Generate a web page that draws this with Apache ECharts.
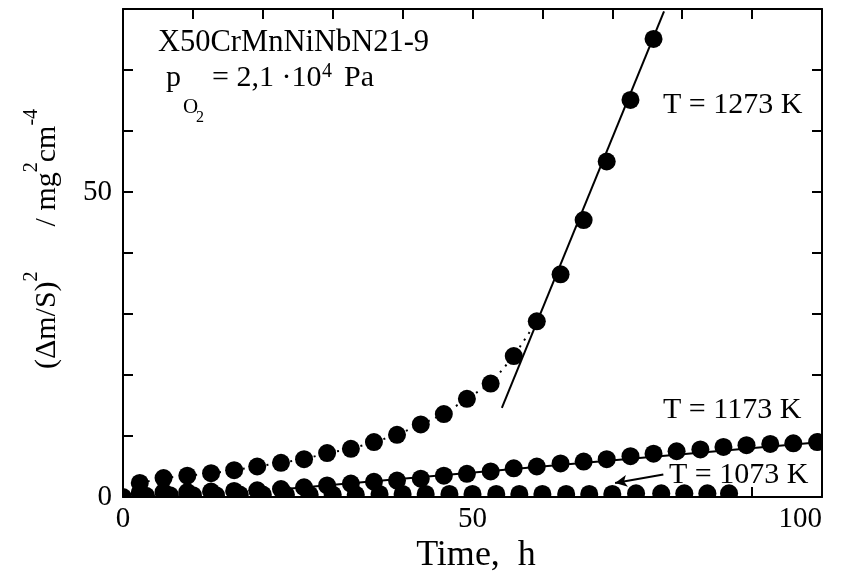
<!DOCTYPE html>
<html>
<head>
<meta charset="utf-8">
<script src="https://cdn.jsdelivr.net/npm/echarts@6/dist/echarts.min.js"></script>
<style>
  html, body { margin: 0; padding: 0; background: #fff; }
  #chart { width: 859px; height: 579px; }
</style>
</head>
<body>
<div id="chart"></div>
<script>
// time (h) and (dm/S)^2 (mg^2 cm^-4)
const t1273 = [2.4, 5.8, 9.2, 12.6, 15.9, 19.2, 22.6, 25.9, 29.2, 32.6, 35.9, 39.2, 42.6, 45.9, 49.2, 52.6, 55.9, 59.2, 62.6, 65.9, 69.2, 72.6, 75.9];
const m1273 = [2.3, 3.1, 3.5, 3.9, 4.4, 5.0, 5.6, 6.2, 7.2, 7.9, 9.0, 10.2, 11.9, 13.6, 16.1, 18.6, 23.1, 28.8, 36.5, 45.4, 55.0, 65.1, 75.1];

const t1173 = [2.4, 5.8, 9.2, 12.6, 15.9, 19.2, 22.6, 25.9, 29.2, 32.6, 35.9, 39.2, 42.6, 45.9, 49.2, 52.6, 55.9, 59.2, 62.6, 65.9, 69.2, 72.6, 75.9, 79.2, 82.6, 85.9, 89.2, 92.6, 95.9, 99.3];
const m1173 = [0.7, 0.8, 0.8, 0.9, 1.0, 1.1, 1.3, 1.6, 1.9, 2.2, 2.5, 2.7, 3.0, 3.5, 3.8, 4.2, 4.7, 5.0, 5.5, 5.8, 6.2, 6.7, 7.1, 7.5, 7.8, 8.2, 8.5, 8.7, 8.8, 9.0];

const t1073 = [0, 3.3, 6.7, 10.0, 13.3, 16.7, 20.0, 23.3, 26.7, 30.0, 33.3, 36.7, 40.0, 43.3, 46.7, 50.0, 53.4, 56.7, 60.0, 63.4, 66.7, 70.0, 73.4, 77.0, 80.3, 83.6, 86.7];
const m1073 = [0.0, 0.2, 0.3, 0.3, 0.3, 0.4, 0.4, 0.4, 0.4, 0.4, 0.4, 0.5, 0.5, 0.5, 0.5, 0.5, 0.5, 0.5, 0.5, 0.5, 0.5, 0.5, 0.6, 0.6, 0.6, 0.6, 0.6];

// straight-line fits drawn in the figure
const fit1273 = [[54.2, 14.6], [77.4, 79.6]];
const fit1173 = [[24.0, 1.4], [100, 9.0]];
const dottedCount = 18; // 1273 K points joined by the dotted curve

const serif = 'Liberation Serif';

function pairs(xs, ys) {
  return xs.map((x, i) => [x, ys[i]]);
}

function dotSeries(data) {
  return {
    type: 'custom',
    clip: true,
    data: data,
    z: 4,
    renderItem: function (params, api) {
      const p = api.coord([api.value(0), api.value(1)]);
      return { type: 'circle', shape: { cx: p[0], cy: p[1], r: 9 }, style: { fill: '#000' } };
    }
  };
}

function axisBase(show) {
  return {
    type: 'value',
    interval: 10,
    axisLine: { show: true, onZero: false, lineStyle: { color: '#000', width: 2 } },
    axisTick: { show: true, inside: true, length: 10, lineStyle: { color: '#000', width: 2 } },
    splitLine: { show: false },
    axisLabel: {
      show: show,
      color: '#000',
      fontFamily: serif,
      fontSize: 29,
      formatter: v => (v % 50 === 0 ? String(v) : '')
    }
  };
}

const txt = (x, y, text, size, extra) => ({
  type: 'text', x: x, y: y, z: 10,
  style: Object.assign({ text: text, fill: '#000', font: size + 'px "' + serif + '"', align: 'left', verticalAlign: 'middle' }, extra || {})
});

const chart = echarts.init(document.getElementById('chart'));
chart.setOption({
  animation: false,
  backgroundColor: '#fff',
  grid: { left: 123, right: 37, top: 9, bottom: 82 },
  xAxis: [
    Object.assign(axisBase(true), { min: 0, max: 100, position: 'bottom',
      axisLabel: Object.assign(axisBase(true).axisLabel, { margin: 8, alignMaxLabel: 'right' }) }),
    Object.assign(axisBase(false), { min: 0, max: 100, position: 'top' })
  ],
  yAxis: [
    Object.assign(axisBase(true), { min: 0, max: 80, position: 'left',
      axisLabel: Object.assign(axisBase(true).axisLabel, { margin: 11 }) }),
    Object.assign(axisBase(false), { min: 0, max: 80, position: 'right' })
  ],
  series: [
    {
      type: 'line', data: pairs(t1273, m1273).slice(0, dottedCount), symbol: 'none',
      lineStyle: { color: '#000', width: 2, type: [2, 6] }, z: 2
    },
    {
      type: 'line', data: fit1273, symbol: 'none',
      lineStyle: { color: '#000', width: 2 }, z: 3
    },
    {
      type: 'line', data: fit1173, symbol: 'none',
      lineStyle: { color: '#000', width: 2 }, z: 3,
      markLine: {
        silent: true, symbol: ['none', 'arrow'], symbolSize: [9, 12],
        label: { show: false },
        lineStyle: { color: '#000', width: 2, type: 'solid' },
        data: [[{ coord: [77.3, 3.7] }, { coord: [70.4, 2.3] }]]
      }
    },
    dotSeries(pairs(t1273, m1273)),
    dotSeries(pairs(t1173, m1173)),
    dotSeries(pairs(t1073, m1073))
  ],
  graphic: [
    txt(158, 43, 'X50CrMnNiNbN21-9', 30.5),
    txt(166, 78, 'p', 30),
    txt(183, 107, 'O', 21),
    txt(196, 118, '2', 16),
    txt(212, 78, '= 2,1 ·10', 30),
    txt(322, 72, '4', 20),
    txt(344, 78, 'Pa', 30),
    txt(663, 105, 'T = 1273 K', 30),
    txt(663, 410, 'T = 1173 K', 30),
    txt(669, 475, 'T = 1073 K', 30),
    txt(476, 556, 'Time,  h', 36, { align: 'center' }),
    {
      type: 'text', x: 42, y: 239, rotation: Math.PI / 2, z: 10,
      style: {
        text: '{a|(Δm/S)}{s|2}{a|      / mg}{s|2}{a|cm}{s|-4}',
        align: 'center', verticalAlign: 'middle', fill: '#000',
        rich: {
          a: { fontFamily: serif, fontSize: 30, lineHeight: 40, verticalAlign: 'bottom', fill: '#000' },
          s: { fontFamily: serif, fontSize: 20, lineHeight: 20, verticalAlign: 'top', fill: '#000' }
        }
      }
    }
  ]
});
window.addEventListener('resize', () => chart.resize());
</script>
</body>
</html>
